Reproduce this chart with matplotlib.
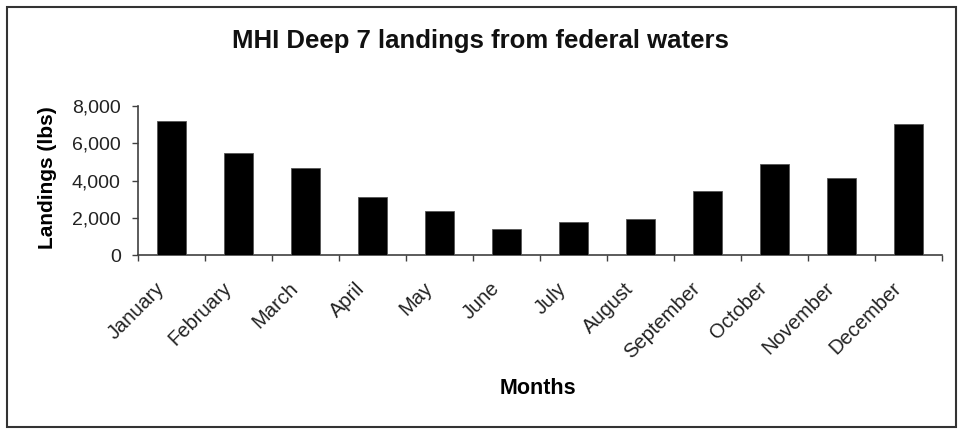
import matplotlib
matplotlib.use("Agg")
import matplotlib.pyplot as plt
import matplotlib.transforms as mtransforms
from matplotlib.patches import Rectangle

months = ["January", "February", "March", "April", "May", "June",
          "July", "August", "September", "October", "November", "December"]
landings = [7200, 5500, 4700, 3150, 2400, 1400, 1770, 1930, 3430, 4880, 4160, 7020]
yticks = [0, 2000, 4000, 6000, 8000]
ytick_labels = ["0", "2,000", "4,000", "6,000", "8,000"]

plt.rcParams['font.family'] = ['Liberation Sans', 'DejaVu Sans']

fig = plt.figure(figsize=(9.58, 4.30), dpi=100)
ax = fig.add_axes([0.1441, 0.4063, 0.8392, 0.3472])

x = list(range(len(months)))
ax.bar(x, landings, width=0.44, color="black", edgecolor="#555555", linewidth=0.6, zorder=3)

ax.set_xlim(-0.5, len(months) - 0.5)
ax.set_ylim(0, 8000)
ax.set_yticks(yticks)
ax.set_yticklabels(ytick_labels, fontsize=14, color="#222222")

ax.set_xticks([i - 0.5 for i in range(len(months) + 1)])
ax.set_xticklabels([])
ax.set_xticks(x, minor=True)
ax.set_xticklabels(months, minor=True, rotation=45, ha="right", va="top",
                   rotation_mode="anchor", fontsize=14.5, color="#222222")
ax.tick_params(axis="x", which="minor", length=0, pad=12)
ax.tick_params(axis="x", which="major", length=4.5, width=1, color="#404040", direction="out")
ax.tick_params(axis="y", length=4.5, width=1, color="#404040", direction="out", pad=8)

offset = mtransforms.ScaledTranslation(-17 / 100, -7 / 100, fig.dpi_scale_trans)
for lab in ax.get_xticklabels(minor=True):
    lab.set_transform(lab.get_transform() + offset)

for s in ["top", "right"]:
    ax.spines[s].set_visible(False)
for s in ["left", "bottom"]:
    ax.spines[s].set_color("#404040")
    ax.spines[s].set_linewidth(1.2)

ax.set_ylabel("Landings (lbs)", fontsize=15, fontweight="bold")
ax.set_xlabel("Months", fontsize=15.5, fontweight="bold")
ax.xaxis.set_label_coords(0.498, -0.82)
ax.yaxis.set_label_coords(-0.101, 0.517)

fig.text(0.502, 0.905, "MHI Deep 7 landings from federal waters", ha="center", va="center",
         fontsize=18.5, fontweight="bold", color="#111111")

border = Rectangle((7 / 958, 3 / 430), 949 / 958, 420 / 430, transform=fig.transFigure,
                   fill=False, edgecolor="#333333", linewidth=1.5)
fig.patches.append(border)

fig.savefig("out.png", dpi=100)
